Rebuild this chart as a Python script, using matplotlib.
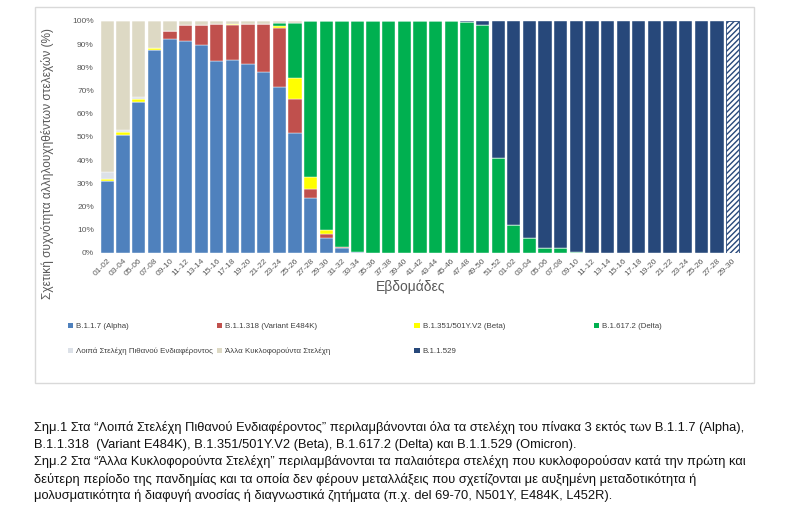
import numpy as np
import matplotlib
matplotlib.use("Agg")
import matplotlib.pyplot as plt
from matplotlib.patches import Rectangle, Patch

plt.rcParams['font.family'] = ['Liberation Sans', 'DejaVu Sans']

weeks = ['01-02', '03-04', '05-06', '07-08', '09-10', '11-12', '13-14', '15-16', '17-18',
         '19-20', '21-22', '23-24', '25-26', '27-28', '29-30', '31-32', '33-34', '35-36',
         '37-38', '39-40', '41-42', '43-44', '45-46', '47-48', '49-50', '51-52',
         '01-02', '03-04', '05-06', '07-08', '09-10', '11-12', '13-14', '15-16', '17-18',
         '19-20', '21-22', '23-24', '25-26', '27-28', '29-30']

alpha = [31, 51, 65, 87.5, 92, 91.5, 89.5, 82.5, 83, 81.5, 78, 71.5, 51.5, 23.5, 6.5, 2.2,
         0.3, 0, 0, 0, 0, 0, 0, 0, 0, 0, 0, 0, 0, 0, 0, 0, 0, 0, 0, 0, 0, 0, 0, 0, 0]
e484k = [0, 0, 0, 0, 3.7, 6.5, 8.5, 16.3, 15.3, 17, 20.7, 25.5, 15, 4, 1.7, 0.4,
         0, 0, 0, 0, 0, 0, 0, 0, 0, 0, 0, 0, 0, 0, 0, 0, 0, 0, 0, 0, 0, 0, 0, 0, 0]
beta = [1, 1, 1.5, 1, 0, 0, 0, 0, 0.5, 0, 0, 0.6, 8.7, 5.3, 1.9, 0,
        0, 0, 0, 0, 0, 0, 0, 0, 0, 0, 0, 0, 0, 0, 0, 0, 0, 0, 0, 0, 0, 0, 0, 0, 0]
delta = [0, 0, 0, 0, 0, 0, 0, 0, 0, 0, 0, 1.5, 24, 67.2, 89.9, 97.4, 99.7, 100, 100, 100,
         100, 100, 100, 99.5, 98, 41, 12, 6.5, 2.2, 2, 0.3, 0, 0, 0, 0, 0, 0, 0, 0, 0, 0]
loipa = [3, 1, 0.5, 0, 0, 0, 0, 0, 0, 0, 0, 0, 0, 0, 0, 0, 0, 0, 0, 0, 0,
         0, 0, 0, 0, 0, 0, 0, 0, 0, 0, 0, 0, 0, 0, 0, 0, 0, 0, 0, 0]
alla = [65, 47, 33, 11.5, 4.3, 2, 2, 1.2, 1.2, 1.5, 1.3, 0.9, 0.8, 0, 0, 0, 0, 0, 0, 0, 0,
        0, 0, 0, 0, 0, 0, 0, 0, 0, 0, 0, 0, 0, 0, 0, 0, 0, 0, 0, 0]
omicron = [0, 0, 0, 0, 0, 0, 0, 0, 0, 0, 0, 0, 0, 0, 0, 0, 0, 0, 0, 0, 0, 0, 0, 0.5, 2, 59,
           88, 93.5, 97.8, 98, 99.7, 100, 100, 100, 100, 100, 100, 100, 100, 100, 100]

series = [
    ('B.1.1.7 (Alpha)', alpha, '#4F81BD'),
    ('B.1.1.318 (Variant E484K)', e484k, '#C0504D'),
    ('B.1.351/501Y.V2 (Beta)', beta, '#FFFF00'),
    ('B.1.617.2 (Delta)', delta, '#00B050'),
    ('Λοιπά Στελέχη Πιθανού Ενδιαφέροντος', loipa, '#DCE1E8'),
    ('Άλλα Κυκλοφορούντα Στελέχη', alla, '#DDD9C4'),
    ('B.1.1.529', omicron, '#27487A'),
]

fig = plt.figure(figsize=(7.97, 5.08), dpi=100)
ax = fig.add_axes([0.123, 0.502, 0.808, 0.457])

x = np.arange(len(weeks))
bottom = np.zeros(len(weeks))
for name, vals, col in series:
    vals = np.array(vals, dtype=float)
    bars = ax.bar(x, vals, 0.85, bottom=bottom, color=col, edgecolor='white', linewidth=0.3)
    if name == 'B.1.1.529':
        # last fortnight is provisional -> hatched
        bars[-1].set_facecolor('white')
        bars[-1].set_edgecolor(col)
        bars[-1].set_hatch('//////')
        bars[-1].set_linewidth(0.6)
    bottom += vals

ax.set_xlim(-0.6, 40.6)
ax.set_ylim(0, 100)
ax.set_yticks(np.arange(0, 101, 10))
ax.set_yticklabels([f'{v}%' for v in range(0, 101, 10)])
ax.set_xticks(x)
ax.set_xticklabels(weeks, rotation=45, ha='right', rotation_mode='anchor')
ax.tick_params(axis='both', length=0, labelsize=6, labelcolor='#595959', pad=3)
for s in ax.spines.values():
    s.set_visible(False)

fig.text(0.515, 0.435, 'Εβδομάδες', ha='center', va='center', fontsize=10, color='#595959')
ylab = fig.text(0.060, 0.679, 'Σχετική συχνότητα αλληλουχηθέντων στελεχών (%)', rotation=90,
                ha='center', va='center', fontsize=9.5, color='#595959')

# legend laid out in columns like the original
cols = [(0.085, [0, 4]), (0.272, [1, 5]), (0.520, [2, 6]), (0.745, [3])]
for xpos, idx in cols:
    handles = [Patch(facecolor=series[i][2], edgecolor='none') for i in idx]
    labels = [series[i][0] for i in idx]
    fig.legend(handles, labels, loc='upper left', bbox_to_anchor=(xpos, 0.365),
               frameon=False, fontsize=5.7, handlelength=0.65, handleheight=0.65,
               handletextpad=0.4, labelspacing=2.25, labelcolor='#404040',
               borderaxespad=0, borderpad=0)

fig.patches.append(Rectangle((35 / 797, 1 - 383 / 508), 719 / 797, 376 / 508,
                             transform=fig.transFigure, fill=False, edgecolor='#D9D9D9', lw=1))

notes = [
    'Σημ.1 Στα “Λοιπά Στελέχη Πιθανού Ενδιαφέροντος” περιλαμβάνονται όλα τα στελέχη του πίνακα 3 εκτός των B.1.1.7 (Alpha),',
    'B.1.1.318  (Variant E484K), B.1.351/501Y.V2 (Beta), B.1.617.2 (Delta) και B.1.1.529 (Omicron).',
    'Σημ.2 Στα “Άλλα Κυκλοφορούντα Στελέχη” περιλαμβάνονται τα παλαιότερα στελέχη που κυκλοφορούσαν κατά την πρώτη και',
    'δεύτερη περίοδο της πανδημίας και τα οποία δεν φέρουν μεταλλάξεις που σχετίζονται με αυξημένη μεταδοτικότητα ή',
    'μολυσματικότητα ή διαφυγή ανοσίας ή διαγνωστικά ζητήματα (π.χ. del 69-70, N501Y, E484K, L452R).',
]
note_txt = []
for i, line in enumerate(notes):
    note_txt.append(fig.text(34 / 797, 1 - (428 + 17 * i) / 508, line, ha='left', va='center',
                             fontsize=9, color='#111111'))

# shrink the notes and the y label to the widths seen in the original
fig.canvas.draw()
r = fig.canvas.get_renderer()
w = note_txt[0].get_window_extent(r).width
for t in note_txt:
    t.set_fontsize(9 * 708 / w)
h = ylab.get_window_extent(r).height
ylab.set_fontsize(9.5 * 272 / h)

fig.savefig('out.png', dpi=100)
